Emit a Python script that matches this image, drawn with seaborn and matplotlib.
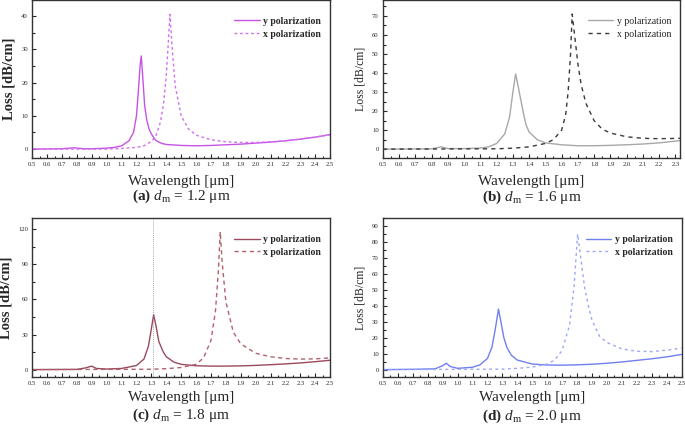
import numpy as np
import pandas as pd
import matplotlib
matplotlib.use("Agg")
import matplotlib.pyplot as plt
from matplotlib.ticker import MultipleLocator, FormatStrFormatter
import seaborn as sns

sns.set_style("ticks")
plt.rcParams["font.family"] = ["Liberation Serif", "DejaVu Serif"]
plt.rcParams["mathtext.fontset"] = "custom"
plt.rcParams["mathtext.rm"] = "Liberation Serif"
plt.rcParams["mathtext.it"] = "Liberation Serif:italic"
plt.rcParams["mathtext.bf"] = "Liberation Serif:bold"

# ── data ────────────────────────────────────────────────────────────────────
# (a) d_m = 1.2 um
wl_a_y = [0.5, 0.7, 0.78, 0.85, 0.9, 1.0, 1.05, 1.1, 1.15, 1.18, 1.2, 1.215, 1.225, 1.232,
          1.24, 1.255, 1.27, 1.285, 1.3, 1.33, 1.37, 1.4, 1.5, 1.6, 1.7, 1.8, 1.9, 2.0,
          2.1, 2.2, 2.3, 2.4, 2.5]
loss_a_y = [0.0, 0.1, 0.4, 0.1, 0.1, 0.3, 0.5, 1.0, 2.5, 5.0, 10.0, 19.0, 25.5, 28.0,
            23.0, 13.0, 8.5, 6.0, 4.5, 2.6, 1.7, 1.4, 1.1, 1.0, 1.1, 1.3, 1.5, 1.8,
            2.1, 2.5, 3.0, 3.6, 4.4]
wl_a_x = [0.5, 1.0, 1.1, 1.2, 1.25, 1.3, 1.33, 1.36, 1.38, 1.4, 1.415, 1.425, 1.44, 1.46,
          1.5, 1.55, 1.6, 1.7, 1.8, 1.9, 2.0, 2.1, 2.2, 2.3, 2.4, 2.5]
loss_a_x = [0.0, 0.0, 0.2, 0.5, 1.0, 2.3, 4.0, 8.0, 13.0, 22.0, 33.0, 40.5, 30.0, 19.0,
            10.0, 6.0, 4.2, 2.8, 2.2, 2.0, 2.0, 2.2, 2.5, 3.0, 3.6, 4.3]

# (b) d_m = 1.6 um
wl_b_y = [0.5, 0.8, 0.86, 0.9, 1.0, 1.1, 1.15, 1.2, 1.25, 1.28, 1.3, 1.317, 1.335, 1.36,
          1.38, 1.4, 1.45, 1.5, 1.6, 1.7, 1.8, 1.9, 2.0, 2.1, 2.2, 2.33]
loss_b_y = [0.0, 0.2, 1.2, 0.3, 0.3, 0.6, 1.2, 3.0, 8.0, 17.0, 30.0, 39.5, 32.0, 21.0,
            13.0, 9.0, 5.0, 3.3, 2.3, 1.8, 1.8, 2.0, 2.3, 2.7, 3.3, 4.5]
wl_b_x = [0.5, 1.2, 1.3, 1.4, 1.5, 1.55, 1.6, 1.625, 1.64, 1.655, 1.665, 1.68, 1.7, 1.72,
          1.75, 1.8, 1.85, 1.9, 2.0, 2.1, 2.2, 2.33]
loss_b_x = [0.0, 0.2, 0.5, 1.2, 3.0, 5.0, 10.0, 18.0, 30.0, 50.0, 71.0, 60.0, 45.0, 34.0,
            24.0, 15.0, 10.5, 8.5, 6.5, 5.7, 5.5, 5.7]

# (c) d_m = 1.8 um
wl_c_y = [0.5, 0.8, 0.86, 0.9, 0.93, 1.0, 1.1, 1.2, 1.25, 1.28, 1.3, 1.315, 1.33, 1.35,
          1.38, 1.4, 1.45, 1.5, 1.6, 1.7, 1.8, 1.9, 2.0, 2.1, 2.2, 2.3, 2.4, 2.5]
loss_c_y = [0.0, 0.2, 1.5, 3.0, 1.0, 0.5, 1.0, 3.5, 9.0, 20.0, 35.0, 47.0, 38.0, 24.0,
            15.0, 11.0, 6.5, 4.5, 3.3, 3.0, 3.0, 3.2, 3.6, 4.2, 4.9, 5.7, 6.8, 8.0]
wl_c_x = [0.5, 1.3, 1.4, 1.5, 1.6, 1.65, 1.7, 1.73, 1.75, 1.762, 1.775, 1.8, 1.85, 1.9,
          2.0, 2.1, 2.2, 2.3, 2.4, 2.5]
loss_c_x = [0.0, 0.3, 0.8, 1.8, 4.5, 10.0, 25.0, 50.0, 85.0, 118.0, 92.0, 58.0, 32.0, 22.0,
            14.0, 11.0, 9.5, 9.0, 9.2, 10.0]
marker_c = 1.31

# (d) d_m = 2.0 um
wl_d_y = [0.5, 0.7, 0.85, 0.9, 0.925, 0.95, 1.0, 1.1, 1.15, 1.2, 1.23, 1.25, 1.274, 1.29,
          1.31, 1.33, 1.36, 1.4, 1.5, 1.6, 1.7, 1.8, 1.9, 2.0, 2.1, 2.2, 2.3, 2.4, 2.5]
loss_d_y = [0.0, 0.2, 0.5, 2.5, 4.0, 2.0, 0.8, 1.5, 3.0, 7.0, 14.0, 24.0, 38.0, 30.0,
            20.0, 14.0, 9.0, 6.0, 3.5, 2.9, 2.8, 3.0, 3.4, 4.0, 4.8, 5.8, 6.8, 8.0, 9.5]
wl_d_x = [0.5, 1.3, 1.4, 1.5, 1.6, 1.65, 1.7, 1.75, 1.78, 1.804, 1.825, 1.85, 1.88, 1.9,
          1.95, 2.0, 2.1, 2.2, 2.3, 2.4, 2.5]
loss_d_x = [0.0, 0.3, 0.8, 1.6, 3.5, 6.0, 12.0, 28.0, 52.0, 85.0, 70.0, 52.0, 38.0, 31.0,
            21.0, 17.0, 13.0, 11.5, 11.3, 12.2, 13.5]

panels = [
    dict(rect=[0.047, 0.628, 0.435, 0.372], y=(wl_a_y, loss_a_y), x=(wl_a_x, loss_a_x),
         cy="#c653e6", cx="#d070ee", dash=(2, 2), xlim=(0.5, 2.5), ylim=(-2.7, 44.8),
         major=10, minor=5, cap="(a)", dm="1.2", bold=True, capy=196, xly=181),
    dict(rect=[0.559, 0.628, 0.434, 0.372], y=(wl_b_y, loss_b_y), x=(wl_b_x, loss_b_x),
         cy="#a8a8a8", cx="#3a3a3a", dash=(3, 3), xlim=(0.5, 2.33), ylim=(-4.7, 78.4),
         major=10, minor=5, cap="(b)", dm="1.6", bold=False, capy=197, xly=181),
    dict(rect=[0.047, 0.113, 0.435, 0.374], y=(wl_c_y, loss_c_y), x=(wl_c_x, loss_c_x),
         cy="#9a4a5c", cx="#b3606f", dash=(3, 2.5), xlim=(0.5, 2.5), ylim=(-6.3, 129.7),
         major=30, minor=15, cap="(c)", dm="1.8", bold=True, capy=415, xly=397),
    dict(rect=[0.559, 0.113, 0.436, 0.374], y=(wl_d_y, loss_d_y), x=(wl_d_x, loss_d_x),
         cy="#6f80ef", cx="#9aa6f6", dash=(2, 2.5), xlim=(0.5, 2.5), ylim=(-4.6, 95.0),
         major=10, minor=5, cap="(d)", dm="2.0", bold=True, capy=416, xly=397),
]

W, H = 685, 425
fig = plt.figure(figsize=(W / 100, H / 100), dpi=100)

for i, p in enumerate(panels):
    ax = fig.add_axes(p["rect"])
    sns.lineplot(x=p["y"][0], y=p["y"][1], ax=ax, color=p["cy"], lw=1.0,
                 label="y polarization")
    sns.lineplot(x=p["x"][0], y=p["x"][1], ax=ax, color=p["cx"], lw=1.0,
                 dashes=p["dash"], label="x polarization")
    if i == 2:
        ax.axvline(marker_c, color="#888888", lw=0.6, ls=(0, (1, 1.5)))

    ax.set_xlim(*p["xlim"])
    ax.set_ylim(*p["ylim"])
    ax.xaxis.set_major_locator(MultipleLocator(0.1))
    ax.xaxis.set_minor_locator(MultipleLocator(0.05))
    ax.xaxis.set_major_formatter(FormatStrFormatter("%.1f"))
    ax.yaxis.set_major_locator(MultipleLocator(p["major"]))
    ax.yaxis.set_minor_locator(MultipleLocator(p["minor"]))
    ax.tick_params(which="both", direction="in", labelsize=4.8, width=0.8, pad=3)
    ax.tick_params(which="major", length=3)
    ax.tick_params(which="minor", length=1.8)
    for s in ax.spines.values():
        s.set_linewidth(1.0)
        s.set_color("#333333")
    ax.set_xlabel("")
    if p["bold"] and i != 3:
        ax.set_ylabel("Loss [dB/cm]", fontsize=10.5, fontweight="bold", labelpad=4)
    else:
        ax.set_ylabel("Loss [dB/cm]", fontsize=8.5, labelpad=4)

    leg = ax.legend(loc="upper right", bbox_to_anchor=(0.99, 0.93), frameon=False,
                    fontsize=7, handlelength=2.6, handletextpad=0.4,
                    labelspacing=0.4, borderaxespad=0.2)
    for t in leg.get_texts():
        t.set_fontweight("bold" if p["bold"] else "normal")

    cx = p["rect"][0] + p["rect"][2] / 2
    fig.text(cx, 1 - p["xly"] / H, "Wavelength [μm]", ha="center", va="center",
             fontsize=11)
    fig.text(cx, 1 - p["capy"] / H,
             r"$\bf{" + p["cap"] + r"}$ $d_{\rm m}$ = " + p["dm"] + " μm",
             ha="center", va="center", fontsize=11)

fig.savefig("out.png", dpi=100)
